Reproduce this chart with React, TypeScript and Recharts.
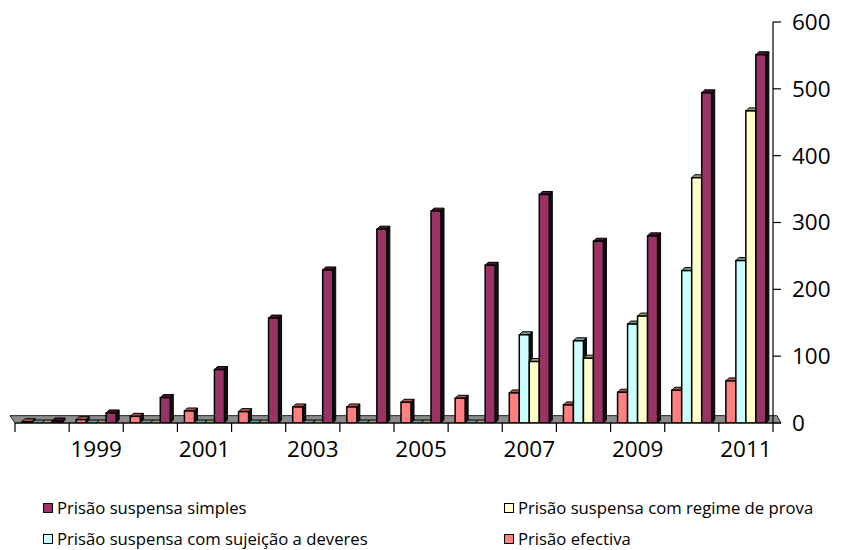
import React from 'react';
import { BarChart, Bar, XAxis, YAxis, Legend, ReferenceArea } from 'recharts';

const years = ['1998', '1999', '2000', '2001', '2002', '2003', '2004', '2005', '2006', '2007', '2008', '2009', '2010', '2011'];
const xTickLabels = ['1999', '2001', '2003', '2005', '2007', '2009', '2011'];
const yTicks = [0, 100, 200, 300, 400, 500, 600];

const prisaoEfectiva = [2, 5, 10, 18, 17, 24, 24, 31, 37, 45, 27, 46, 49, 63];
const prisaoSujeicao = [0, 0, 0, 0, 0, 0, 0, 0, 0, 132, 123, 148, 228, 243];
const prisaoProva = [0, 0, 0, 0, 0, 0, 0, 0, 0, 92, 97, 160, 367, 467];
const prisaoSimples = [3, 15, 38, 80, 157, 229, 290, 317, 236, 342, 272, 280, 494, 551];

const NAME_SIMPLES = 'Prisão suspensa simples';
const NAME_PROVA = 'Prisão suspensa com regime de prova';
const NAME_SUJEICAO = 'Prisão suspensa com sujeição a deveres';
const NAME_EFECTIVA = 'Prisão efectiva';

const C_SIMPLES = '#993366';
const C_PROVA = '#FFFFCC';
const C_SUJEICAO = '#CCFFFF';
const C_EFECTIVA = '#FF8080';

const data = years.map((year, i) => ({
  year,
  efectiva: prisaoEfectiva[i],
  sujeicao: prisaoSujeicao[i],
  prova: prisaoProva[i],
  simples: prisaoSimples[i],
}));

const FONT = '"Open Sans", sans-serif';

function bar3D(fill: string, topFill: string) {
  return (props: any) => {
    const { x, y, width, height } = props;
    if (x == null || y == null || width == null) return <g />;
    const d = 3;
    const h = Math.max(0, height || 0);
    return (
      <g>
        <polygon
          points={`${x},${y} ${x + d},${y - d} ${x + width + d},${y - d} ${x + width},${y}`}
          fill={topFill}
          stroke="#000"
          strokeWidth={1}
        />
        <polygon
          points={`${x + width},${y} ${x + width + d},${y - d} ${x + width + d},${y + h - d} ${x + width},${y + h}`}
          fill="#111"
          stroke="#000"
          strokeWidth={1}
        />
        <rect x={x} y={y} width={width} height={h} fill={fill} stroke="#000" strokeWidth={1.5} />
      </g>
    );
  };
}

const FloorShape = (props: any) => {
  const { x, y, width, height } = props;
  if (x == null) return <g />;
  return (
    <polygon
      points={`${x - 5},${y} ${x + width + 4},${y} ${x + width + 8},${y + height} ${x},${y + height}`}
      fill="#8c8c8c"
      stroke="#222"
      strokeWidth={1}
    />
  );
};

const XTick = (props: any) => {
  const { x, y, payload, index } = props;
  const half = payload && payload.offset ? payload.offset : 27;
  const label = String(payload.value);
  return (
    <g>
      <line x1={x - half} x2={x - half} y1={y} y2={y + 9} stroke="#000" strokeWidth={1.2} />
      {index === years.length - 1 && (
        <line x1={x + half} x2={x + half} y1={y} y2={y + 9} stroke="#000" strokeWidth={1.2} />
      )}
      {xTickLabels.includes(label) && (
        <text x={x} y={y + 34} textAnchor="middle" fontFamily={FONT} fontSize={22.5} fill="#000">
          {label}
        </text>
      )}
    </g>
  );
};

const legendItems = [
  { name: NAME_SIMPLES, color: C_SIMPLES, left: 35, top: 18 },
  { name: NAME_PROVA, color: C_PROVA, left: 496, top: 18 },
  { name: NAME_SUJEICAO, color: C_SUJEICAO, left: 35, top: 49 },
  { name: NAME_EFECTIVA, color: C_EFECTIVA, left: 496, top: 49 },
];

const LegendBox = () => (
  <div style={{ position: 'relative', width: 825, height: 60 }}>
    {legendItems.map((it) => (
      <div
        key={it.name}
        style={{
          position: 'absolute',
          left: it.left,
          top: it.top - 10,
          height: 20,
          lineHeight: '20px',
          display: 'flex',
          alignItems: 'center',
          fontFamily: FONT,
          fontSize: 16.7,
          color: '#000',
          whiteSpace: 'nowrap',
        }}
      >
        <span
          style={{
            display: 'inline-block',
            width: 8,
            height: 8,
            background: it.color,
            border: '1.5px solid #000',
            marginRight: 4,
          }}
        />
        <span>{it.name}</span>
      </div>
    ))}
  </div>
);

export default function App() {
  return (
    <div style={{ marginTop: -8, width: 825, height: 550 }}>
      <BarChart
        width={825}
        height={550}
        data={data}
        margin={{ top: 22, right: 2, bottom: 0, left: 7 }}
        barCategoryGap={7}
        barGap={0}
      >
        <ReferenceArea y1={0} y2={11} shape={<FloorShape />} ifOverflow="visible" />
        <XAxis
          dataKey="year"
          interval={0}
          height={67}
          tickSize={0}
          tickMargin={0}
          tickLine={false}
          axisLine={{ stroke: '#000', strokeWidth: 1.2 }}
          tick={<XTick />}
        />
        <YAxis
          orientation="right"
          domain={[0, 600]}
          ticks={yTicks}
          width={58}
          tickSize={8}
          tickMargin={11}
          axisLine={{ stroke: '#000', strokeWidth: 1.2 }}
          tickLine={{ stroke: '#000', strokeWidth: 1.2 }}
          tick={{ fill: '#000', fontSize: 22.5, fontFamily: FONT }}
          allowDataOverflow
        />
        <Legend
          verticalAlign="bottom"
          wrapperStyle={{ left: 0, bottom: 0, width: 825, height: 60 }}
          content={() => <LegendBox />}
        />
        <Bar dataKey="efectiva" name={NAME_EFECTIVA} fill={C_EFECTIVA} shape={bar3D(C_EFECTIVA, '#b35454')} isAnimationActive={false} />
        <Bar dataKey="sujeicao" name={NAME_SUJEICAO} fill={C_SUJEICAO} shape={bar3D(C_SUJEICAO, '#6f9c9c')} isAnimationActive={false} />
        <Bar dataKey="prova" name={NAME_PROVA} fill={C_PROVA} shape={bar3D(C_PROVA, '#9c9c70')} isAnimationActive={false} />
        <Bar dataKey="simples" name={NAME_SIMPLES} fill={C_SIMPLES} shape={bar3D(C_SIMPLES, '#4a1430')} isAnimationActive={false} />
      </BarChart>
    </div>
  );
}
